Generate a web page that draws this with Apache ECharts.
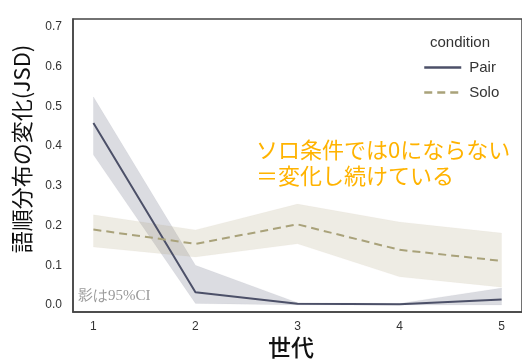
<!DOCTYPE html>
<html><head><meta charset="utf-8">
<script src="https://cdn.jsdelivr.net/npm/echarts@6/dist/echarts.min.js"></script>
<style>html,body{margin:0;padding:0;background:#fff}#c{width:522px;height:359px}</style>
</head><body><div id="c"></div>
<script>
const generations = [1, 2, 3, 4, 5];
const pairMean  = [0.458, 0.032, 0.003, 0.002, 0.014];
const pairLow   = [0.378, 0.004, 0.000, 0.000, 0.000];
const pairHigh  = [0.524, 0.100, 0.006, 0.004, 0.043];
const soloMean  = [0.190, 0.154, 0.203, 0.139, 0.111];
const soloLow   = [0.146, 0.121, 0.154, 0.071, 0.045];
const soloHigh  = [0.227, 0.189, 0.254, 0.209, 0.181];
const yTicks = [0, 0.1, 0.2, 0.3, 0.4, 0.5, 0.6, 0.7];

const pairColor = '#4c5068';
const soloColor = '#a9a27a';

function pts(arr){ return generations.map((g,i)=>[g, arr[i]]); }
function bandSeries(name, lo, hi, color){
  return {
    name: name, type: 'custom', silent: true, z: 1,
    data: generations.map((g,i)=>[g, lo[i], hi[i]]),
    renderItem: function(params, api){
      if (params.dataIndex !== 0) return null;
      const top = generations.map((g,i)=>api.coord([g, hi[i]]));
      const bot = generations.map((g,i)=>api.coord([g, lo[i]])).reverse();
      return {type: 'polygon', shape: {points: top.concat(bot)},
        style: {fill: color, opacity: 0.2, stroke: color, lineWidth: 0.8, strokeOpacity: 0.25}};
    }
  };
}

const chart = echarts.init(document.getElementById('c'), null, {renderer:'canvas'});
const cjk = '"Noto Sans CJK JP", "Noto Sans", sans-serif';
const sans = '"Liberation Sans", Arial, sans-serif';
chart.setOption({
  animation: false,
  grid: {left: 73, top: 19, right: -5, bottom: 47, show: true, borderColor: '#444', borderWidth: 1.5, backgroundColor: 'transparent'},
  xAxis: {
    type: 'value', min: 0.8, max: 5.2,
    axisLine: {show: true, onZero: false, lineStyle: {color: '#444', width: 1.5}},
    axisTick: {show: false}, splitLine: {show: false},
    axisLabel: {color: '#333', fontSize: 12, fontFamily: sans, margin: 9,
      customValues: generations, formatter: v => String(v)}
  },
  yAxis: {
    type: 'value', min: -0.0176, max: 0.72,
    axisLine: {show: true, onZero: false, lineStyle: {color: '#444', width: 1.5}},
    axisTick: {show: false}, splitLine: {show: false},
    axisLabel: {color: '#333', fontSize: 12, fontFamily: sans, margin: 11,
      customValues: yTicks, formatter: v => v.toFixed(1)}
  },
  legend: {
    data: ['Pair', 'Solo'],
    orient: 'vertical', left: 418, top: 55, itemWidth: 37, itemHeight: 14, itemGap: 10,
    itemStyle: {opacity: 0},
    lineStyle: {width: 2.5},
    textStyle: {color: '#333', fontSize: 15, fontFamily: sans, padding: [0,0,0,3]}
  },
  series: [
    bandSeries('pairBand', pairLow, pairHigh, pairColor),
    bandSeries('soloBand', soloLow, soloHigh, soloColor),
    {name: 'Pair', type: 'line', data: pts(pairMean), symbol: 'none', showSymbol: false, color: pairColor,
      lineStyle: {color: pairColor, width: 2}, z: 3},
    {name: 'Solo', type: 'line', data: pts(soloMean), symbol: 'none', showSymbol: false, color: soloColor,
      lineStyle: {color: soloColor, width: 2, type: [8, 5]}, z: 3}
  ],
  graphic: [
    {type: 'text', x: 460, y: 43, style: {text: 'condition', fill: '#333', font: '15px ' + sans, align: 'center', verticalAlign: 'middle'}},
    {type: 'text', x: 22, y: 149, rotation: Math.PI/2,
      style: {text: '語順分布の変化(JSD)', fill: '#111', font: '22px ' + cjk, align: 'center', verticalAlign: 'middle'}},
    {type: 'text', x: 291, y: 347,
      style: {text: '世代', fill: '#111', font: '500 23px ' + cjk, align: 'center', verticalAlign: 'middle'}},
    {type: 'text', x: 256, y: 150,
      style: {text: 'ソロ条件では0にならない', fill: '#FFB300', font: '22px ' + cjk, verticalAlign: 'middle'}},
    {type: 'text', x: 256, y: 176,
      style: {text: '＝変化し続けている', fill: '#FFB300', font: '22px ' + cjk, verticalAlign: 'middle'}},
    {type: 'text', x: 78, y: 296,
      style: {text: '影は95%CI', fill: '#999', font: '15px "Liberation Serif", "DejaVu Serif", serif', verticalAlign: 'middle'}}
  ]
});
</script></body></html>
